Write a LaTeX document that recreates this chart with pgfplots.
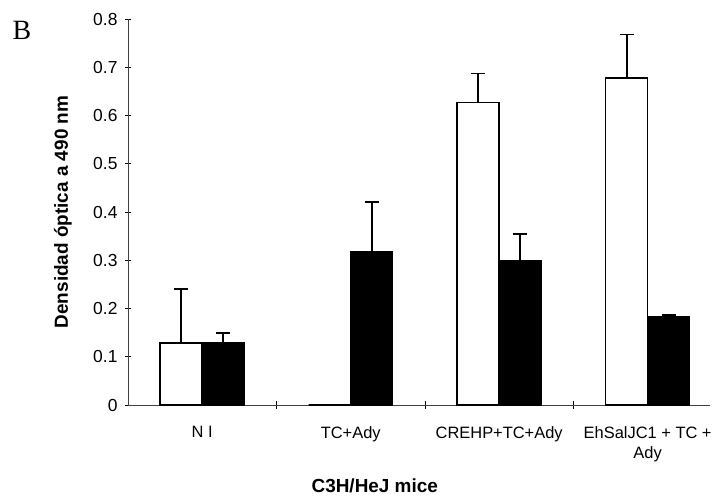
\documentclass[border=0pt]{standalone}
\usepackage{pgfplots}
\pgfplotsset{compat=1.18}
\usepackage{fontspec}
\setmainfont{Liberation Sans}
\newfontfamily\serifB{Liberation Serif}
\begin{document}
\begin{tikzpicture}
\begin{axis}[
  at={(0,0)}, anchor=south west,
  scale only axis, width=582bp, height=386bp,
  xmin=-0.5, xmax=3.42, ymin=0, ymax=0.8,
  axis lines=left,
  axis line style={-, black!75, line width=0.8bp},
  ybar=0pt, bar width=42bp,
  xtick={0,1,2,3},
  xticklabels={N I, TC+Ady, CREHP+TC+Ady, {EhSalJC1 + TC +\\Ady}},
  xticklabel style={align=center, anchor=north, font=\fontsize{16.5}{20}\selectfont, yshift=-15bp},
  major x tick style={draw=none},
  minor xtick={0.5,1.5,2.5},
  ytick={0,0.1,0.2,0.3,0.4,0.5,0.6,0.7,0.8},
  yticklabels={0,0.1,0.2,0.3,0.4,0.5,0.6,0.7,0.8},
  yticklabel style={font=\fontsize{17.5}{20}\selectfont, xshift=-4bp},
  tick align=center, major tick length=6bp, minor tick length=8bp,
  tick style={black, line width=0.8bp},
  ylabel={Densidad óptica a 490 nm},
  ylabel style={font=\bfseries\fontsize{19}{22}\selectfont, at={(axis description cs:-0.1117,0.5)}, anchor=center},
  xlabel={C3H/HeJ mice},
  xlabel style={font=\bfseries\fontsize{19}{22}\selectfont, at={(axis description cs:0.424,-0.21)}, anchor=center},
  clip=false,
]
\addplot[fill=white, draw=black, line width=1.5bp,
  error bars/.cd, y dir=plus, y explicit, error mark=|,
  error bar style={line width=1.8bp, black},
  error mark options={mark size=7bp, line width=1.8bp, black}]
  coordinates {(0,0.128) +- (0,0.112) (2,0.627) +- (0,0.06) (3,0.678) +- (0,0.09)};
\addplot[fill=black, draw=black, line width=1.5bp,
  error bars/.cd, y dir=plus, y explicit, error mark=|,
  error bar style={line width=1.8bp, black},
  error mark options={mark size=7bp, line width=1.8bp, black}]
  coordinates {(0,0.128) +- (0,0.022) (1,0.318) +- (0,0.102) (2,0.30) +- (0,0.054) (3,0.183) +- (0,0.004)};
\addplot[forget plot, fill=white, draw=black, line width=1.2bp, bar shift=-21bp] coordinates {(1,0)};
\end{axis}
\node[font=\serifB\fontsize{28}{30}\selectfont] at (-106bp,375bp) {B};
\pgfresetboundingbox
\path (-128bp,-91bp) rectangle (587bp,405bp);
\end{tikzpicture}
\end{document}
